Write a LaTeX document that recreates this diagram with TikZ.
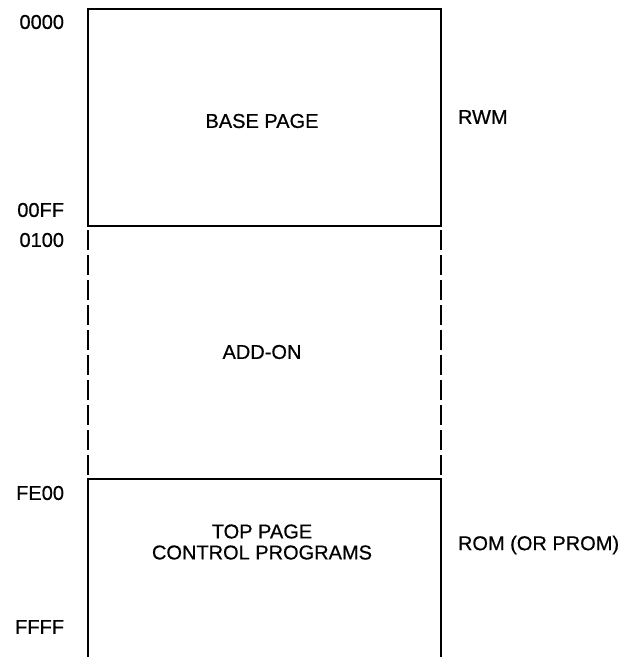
\documentclass[tikz,border=0pt]{standalone}
\usepackage{fontspec}
\setmainfont{Liberation Sans}
\newfontfamily\memfont[FakeBold=0.6]{Liberation Sans}
\usetikzlibrary{positioning}
\tikzset{
  every picture/.style={line width=2pt},
  addr/.style={anchor=east, inner sep=0pt, font=\memfont\fontsize{20}{22}\selectfont},
  region/.style={align=center, inner sep=0pt, font=\memfont\fontsize{20}{21}\selectfont},
  memtype/.style={anchor=west, inner sep=0pt, font=\memfont\fontsize{20}{22}\selectfont},
  gap/.style={dash pattern=on 20pt off 5pt, line width=1.8pt},
}
\begin{document}
\begin{tikzpicture}[x=1pt, y=-1pt]
  \useasboundingbox (0,0) rectangle (630,657);
  % base page box
  \draw (88,9) rectangle (441,226);
  % add-on area (dashed sides)
  \draw[gap] (88,230) -- (88,478);
  \draw[gap] (441,230) -- (441,478);
  % top page, open at the bottom
  \draw (88,657) -- (88,479) -- (441,479) -- (441,657);
  % region texts
  \node[region] (base) at (262,121) {BASE PAGE};
  \node[region] (addon) at (262,352) {ADD-ON};
  \node[region] (top) at (262,542) {TOP PAGE\\CONTROL PROGRAMS};
  % addresses
  \node[addr] (a0000) at (65,22) {0000};
  \node[addr] (a00FF) at (65,210) {00FF};
  \node[addr] (a0100) at (65,240) {0100};
  \node[addr] (aFE00) at (65,493) {FE00};
  \node[addr] (aFFFF) at (65,627) {FFFF};
  % memory types
  \node[memtype] (rwm) at (457,117) {RWM};
  \node[memtype] (rom) at (457,545) {ROM (OR PROM)};
\end{tikzpicture}
\end{document}
